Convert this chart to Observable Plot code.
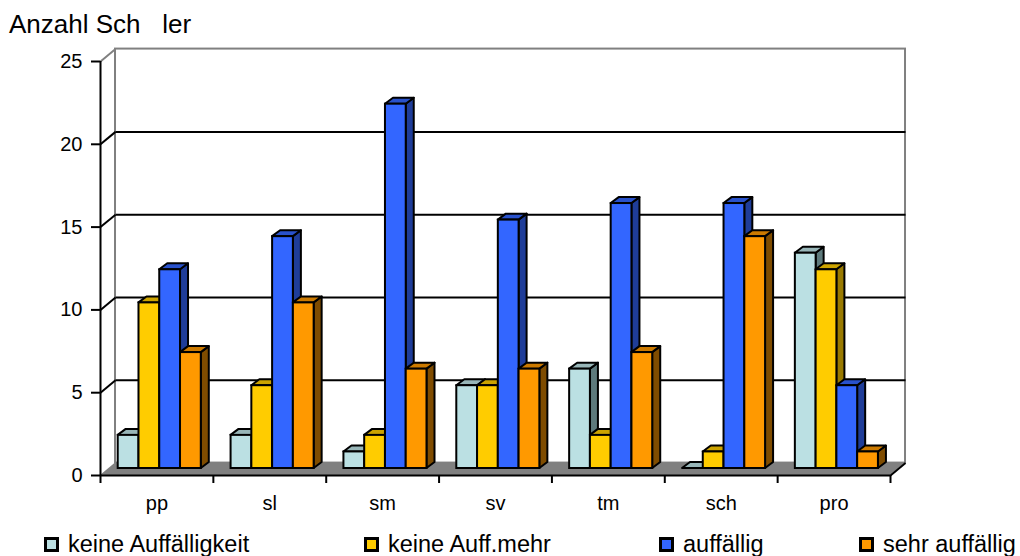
<!DOCTYPE html>
<html><head><meta charset="utf-8">
<script src="https://cdn.jsdelivr.net/npm/d3@7"></script>
<script src="https://cdn.jsdelivr.net/npm/@observablehq/plot@0.6"></script>
<style>
html,body{margin:0;padding:0;background:#fff;}
body{width:1020px;height:556px;position:relative;overflow:hidden;font-family:"Liberation Sans",Arial,sans-serif;color:#000;}
#title{position:absolute;left:9px;top:11px;font-size:26px;line-height:26px;white-space:pre;}
#chart{position:absolute;left:0;top:40px;}
.item{position:absolute;top:532px;font-size:23.5px;line-height:24px;white-space:nowrap;}
.sw{position:absolute;top:537px;width:15px;height:15px;box-sizing:border-box;border:3px solid #000;}
</style>
</head><body>
<div id="title">Anzahl Sch   ler</div>
<div id="chart"></div>
<div id="legend"></div>
<script>
// ---- data ----
const categories = ["pp", "sl", "sm", "sv", "tm", "sch", "pro"];
const seriesNames = ["keine Auffälligkeit", "keine Auff.mehr", "auffällig", "sehr auffällig"];
const keineAuffaelligkeit = [2, 2, 1, 5, 6, 0, 13];
const keineAuffMehr      = [10, 5, 2, 5, 2, 1, 12];
const auffaellig         = [12, 14, 22, 15, 16, 16, 5];
const sehrAuffaellig     = [7, 10, 6, 6, 7, 14, 1];
const yTicks = [0, 5, 10, 15, 20, 25];

// ---- styles ----
const frontColors = ["#BBE0E3", "#FFCC00", "#3366FF", "#FF9900"];
const sideColors  = ["#5E7A7C", "#997A00", "#1F3D99", "#7F4C00"];
const topColors   = ["#98B6B8", "#CCA300", "#2952CC", "#CC7A00"];
const legendLeft  = [44, 364, 659, 859];

const seriesValues = [keineAuffaelligkeit, keineAuffMehr, auffaellig, sehrAuffaellig];
const nCat = categories.length;
const W_DX = 0.133, W_DY = 0.75;   // wall depth (category units / value units)
const B_DX = 0.071, B_DY = 0.36;   // bar depth
const G_OFF = 0.157, B_W = 0.184;  // group offset & bar width (category units)
const B_SHIFT = -7;                // bars sit mid-depth (px)

const barMarks = [];
seriesValues.forEach((vals, s) => {
  const rows = vals.map((v, k) => {
    const xl = k + G_OFF + s * B_W;
    return {key: k, v, xl, xr: xl + B_W};
  });
  const side = rows.flatMap(r => [
    {key: r.key, x: r.xr, y1: 0, y2: r.v},
    {key: r.key, x: r.xr + B_DX, y1: B_DY, y2: r.v + B_DY}
  ]);
  const top = rows.flatMap(r => [
    {key: r.key, y: r.v, x1: r.xl, x2: r.xr},
    {key: r.key, y: r.v + B_DY, x1: r.xl + B_DX, x2: r.xr + B_DX}
  ]);
  barMarks.push(
    Plot.areaY(side, {x: "x", y1: "y1", y2: "y2", z: "key", fill: sideColors[s], stroke: "black", strokeWidth: 2, dy: B_SHIFT}),
    Plot.areaX(top, {y: "y", x1: "x1", x2: "x2", z: "key", fill: topColors[s], stroke: "black", strokeWidth: 2, dy: B_SHIFT}),
    Plot.rect(rows, {x1: "xl", x2: "xr", y1: 0, y2: "v", fill: frontColors[s], stroke: "black", strokeWidth: 2, dy: B_SHIFT})
  );
});

const inner = yTicks.filter(t => t > 0 && t < 25);

const chart = Plot.plot({
  width: 1020, height: 480,
  marginLeft: 100, marginRight: 130, marginTop: 21, marginBottom: 45,
  x: {domain: [0, nCat]},
  y: {domain: [0, 25]},
  style: {fontFamily: "'Liberation Sans', Arial, sans-serif", fontSize: "20px", color: "black", background: "white", overflow: "visible"},
  marks: [
    // floor
    Plot.areaX([{y: 0, x1: 0, x2: nCat}, {y: W_DY, x1: W_DX, x2: nCat + W_DX}], {y: "y", x1: "x1", x2: "x2", fill: "#808080"}),
    // back wall
    Plot.rect([0], {x1: W_DX, x2: nCat + W_DX, y1: W_DY, y2: 25 + W_DY, fill: "white", stroke: "#808080", strokeWidth: 2}),
    // gridlines on back wall
    Plot.link(inner, {x1: W_DX, x2: nCat + W_DX, y1: t => t + W_DY, y2: t => t + W_DY, stroke: "black", strokeWidth: 2}),
    // left wall diagonals
    Plot.link(inner, {x1: 0, y1: t => t, x2: W_DX, y2: t => t + W_DY, stroke: "black", strokeWidth: 2}),
    Plot.link([25], {x1: 0, y1: t => t, x2: W_DX, y2: t => t + W_DY, stroke: "#808080", strokeWidth: 2}),
    ...barMarks,
    // front axes
    Plot.ruleY([0], {x1: 0, x2: nCat, stroke: "black", strokeWidth: 2}),
    Plot.link([0], {x1: nCat, y1: 0, x2: nCat + W_DX, y2: W_DY, stroke: "black", strokeWidth: 2}),
    Plot.ruleX([0], {y1: 0, y2: 25, stroke: "black", strokeWidth: 2}),
    Plot.axisY({ticks: yTicks, tickSize: 9, tickPadding: 9, strokeWidth: 2, fontSize: 20, tickFormat: d => d, label: null}),
    Plot.axisX({ticks: d3.range(0, nCat + 1), tickSize: 8, tickFormat: () => "", strokeWidth: 2, label: null}),
    Plot.axisX({ticks: categories.map((c, i) => i + 0.5), tickSize: 0, tickPadding: 20, fontSize: 20, tickFormat: d => categories[Math.floor(d)], label: null})
  ]
});
document.getElementById("chart").appendChild(chart);

// legend
const lg = document.getElementById("legend");
seriesNames.forEach((name, i) => {
  const sw = document.createElement("div");
  sw.className = "sw";
  sw.style.left = legendLeft[i] + "px";
  sw.style.background = frontColors[i];
  lg.appendChild(sw);
  const t = document.createElement("div");
  t.className = "item";
  t.style.left = (legendLeft[i] + 24) + "px";
  t.textContent = name;
  lg.appendChild(t);
});
</script>
</body></html>
